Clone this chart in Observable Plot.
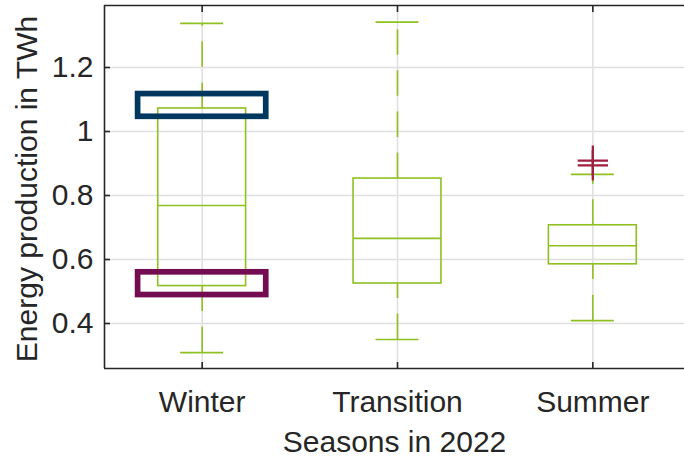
<!DOCTYPE html>
<html><head><meta charset="utf-8">
<script src="https://cdn.jsdelivr.net/npm/d3@7"></script>
<script src="https://cdn.jsdelivr.net/npm/@observablehq/plot@0.6"></script>
<style>html,body{margin:0;padding:0;background:#fff;overflow:hidden} #chart svg{display:block}</style>
</head><body><div id="chart"></div>
<script>
const seasons = ["Winter", "Transition", "Summer"];
const lowerWhisker = [0.309, 0.350, 0.409];
const q1 = [0.517, 0.525, 0.585];
const medians = [0.769, 0.666, 0.643];
const q3 = [1.072, 0.853, 0.707];
const upperWhisker = [1.338, 1.342, 0.866];
const outlierSeason = ["Summer", "Summer"];
const outlierValues = [0.909, 0.894];
const yTicks = [0.4, 0.6, 0.8, 1.0, 1.2];
const highlightSeason = ["Winter", "Winter"];
const highlightLow = [1.046, 0.489];
const highlightHigh = [1.117, 0.560];
const highlightColor = ["#00375f", "#730c50"];
const yLabel = "Energy production in TWh";
const xLabel = "Seasons in 2022";

const green = "#8fc021";
const gridColor = "#dfdfdf";
const ink = "#262626";
const yDomain = [0.2594, 1.3938];
const xDomain = [0.5, 3.5];
const boxHalf = 0.225, capHalf = 0.11, hlHalf = 0.328;

const pos = s => seasons.indexOf(s) + 1;
const boxes = seasons.map((s, i) => ({s, p: i + 1, lo: lowerWhisker[i], q1: q1[i], med: medians[i], q3: q3[i], hi: upperWhisker[i]}));
const outliers = outlierValues.map((v, i) => ({p: pos(outlierSeason[i]), v}));
const highlights = highlightLow.map((lo, i) => ({p: pos(highlightSeason[i]), lo, hi: highlightHigh[i], c: highlightColor[i]}));
const cats = boxes.map(d => d.p);
const dash = "25.5,15.6";

const chart = Plot.plot({
  width: 684, height: 458,
  marginTop: 5, marginBottom: 90, marginLeft: 104, marginRight: 0,
  style: {fontFamily: "'Liberation Sans', Arial, sans-serif", color: ink, background: "#fff"},
  x: {domain: xDomain, range: [104, 690]},
  y: {domain: yDomain},
  marks: [
    Plot.ruleY(yTicks, {stroke: gridColor, strokeWidth: 1.5}),
    Plot.ruleX(cats, {stroke: gridColor, strokeWidth: 1.5}),
    Plot.rect(boxes, {x1: d => d.p - boxHalf, x2: d => d.p + boxHalf, y1: "q1", y2: "q3", fill: "none", stroke: green, strokeWidth: 1.6}),
    Plot.ruleY(boxes, {y: "med", x1: d => d.p - boxHalf, x2: d => d.p + boxHalf, stroke: green, strokeWidth: 1.6}),
    Plot.ruleX(boxes, {x: "p", y1: "q3", y2: "hi", stroke: green, strokeWidth: 1.6, strokeDasharray: dash}),
    Plot.ruleX(boxes, {x: "p", y1: "lo", y2: "q1", stroke: green, strokeWidth: 1.6, strokeDasharray: dash}),
    Plot.ruleY(boxes, {y: "hi", x1: d => d.p - capHalf, x2: d => d.p + capHalf, stroke: green, strokeWidth: 1.6}),
    Plot.ruleY(boxes, {y: "lo", x1: d => d.p - capHalf, x2: d => d.p + capHalf, stroke: green, strokeWidth: 1.6}),
    Plot.dot(outliers, {x: "p", y: "v", symbol: "plus", r: 9.8, stroke: "#a0203f", strokeWidth: 2.3}),
    Plot.rect(highlights, {x1: d => d.p - hlHalf, x2: d => d.p + hlHalf, y1: "lo", y2: "hi", fill: "none", stroke: "c", strokeWidth: 5.7}),
    Plot.ruleY([yDomain[0], yDomain[1]], {stroke: ink, strokeWidth: 1.6}),
    Plot.ruleX([xDomain[0]], {stroke: ink, strokeWidth: 1.6}),
    Plot.axisY({ticks: yTicks, tickSize: -6, tickFormat: () => "", label: null, stroke: ink, strokeWidth: 1.6}),
    Plot.axisY({ticks: yTicks, tickSize: 0, tickPadding: 11, tickFormat: d => String(d), fontSize: 30, label: null, fill: ink}),
    Plot.axisX({anchor: "top", ticks: cats, tickSize: -6, tickFormat: () => "", label: null, stroke: ink, strokeWidth: 1.6}),
    Plot.axisX({anchor: "bottom", ticks: cats, tickSize: -6, tickFormat: () => "", label: null, stroke: ink, strokeWidth: 1.6}),
    Plot.axisX({anchor: "bottom", ticks: cats, tickSize: 0, tickPadding: 22, tickFormat: d => seasons[d - 1], fontSize: 30, label: null, fill: ink}),
    Plot.text([yLabel], {frameAnchor: "left", rotate: -90, dx: -89, dy: 2, lineAnchor: "top", textAnchor: "middle", fontSize: 30, fill: ink}),
    Plot.text([xLabel], {frameAnchor: "bottom", dy: 62, lineAnchor: "top", textAnchor: "middle", fontSize: 30, fill: ink})
  ]
});
document.getElementById("chart").appendChild(chart);
</script>
</body></html>
